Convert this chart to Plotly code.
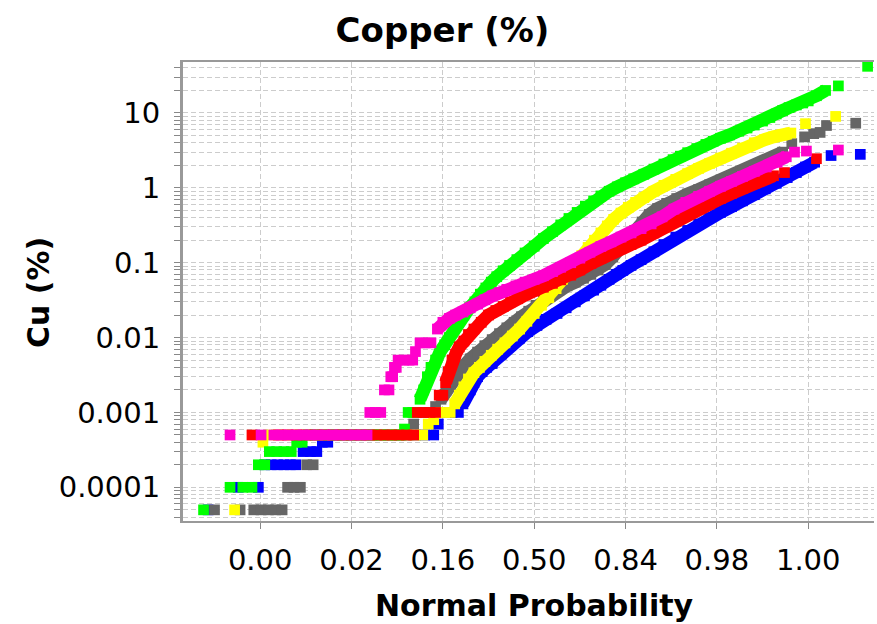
import plotly.graph_objects as go

# Normal-score (z) positions and copper grades for each population
green_z = [-3.62, -3.33, -3.19, -3.09, -3.02, -2.95, -2.90, -2.82, -2.74, -2.66, -2.60, -2.54,
           -2.48, -2.40, -2.32, -2.24, -2.16, -2.08, -2.00, -1.92, -1.84, -1.76, -1.68, -1.60, -1.52, -1.46,
           -1.42, -1.38, -1.33, -1.29, -1.25, -1.21, -1.17, -1.13, -1.08, -1.03, -0.98, -0.93, -0.88, -0.83,
           -0.77, -0.71, -0.65, -0.59, -0.53, -0.47, -0.41, -0.34, -0.27, -0.19, -0.10, 0.00, 0.10, 0.20,
           0.29, 0.38, 0.47, 0.56, 0.65, 0.73, 0.82, 0.91, 1.00, 1.09, 1.20, 1.31, 1.42, 1.52, 1.60, 1.68,
           1.78, 1.88, 1.96, 2.04, 2.14, 2.24, 2.33, 2.41, 2.50, 2.58, 2.65, 2.72, 2.79, 2.87, 2.94, 3.00,
           3.09, 3.19, 3.33, 3.65]
green_cu = [5e-5, 1e-4, 1e-4, 1e-4, 2e-4, 2e-4, 3e-4, 3e-4, 3e-4, 3e-4, 4e-4, 4e-4,
            5e-4, 5e-4, 5e-4, 5e-4, 5e-4, 5e-4, 5e-4, 5e-4, 5e-4, 5e-4, 5e-4, 5e-4, 5e-4, 5e-4,
            6e-4, 1e-3, 1e-3, 1e-3, 1.5e-3, 2e-3, 3e-3, 4e-3, 5e-3, 6.5e-3, 8e-3, 0.010, 0.013, 0.016,
            0.020, 0.025, 0.030, 0.038, 0.046, 0.055, 0.065, 0.078, 0.092, 0.11, 0.135, 0.166, 0.21, 0.26,
            0.32, 0.39, 0.47, 0.57, 0.67, 0.78, 0.90, 1.03, 1.17, 1.32, 1.52, 1.78, 2.08, 2.38, 2.65, 2.95,
            3.35, 3.8, 4.2, 4.6, 5.1, 5.7, 6.3, 6.9, 7.8, 8.7, 9.7, 10.8, 11.8, 12.8, 13.6, 14.5,
            17.0, 20.0, 23.0, 42.0]

yellow_z = [-3.28, -2.97, -2.90, -2.80, -2.70, -2.60, -2.50, -2.40, -2.30, -2.20, -2.10, -2.00, -1.90,
            -1.80, -1.70, -1.60, -1.50, -1.40, -1.30, -1.22, -1.16, -1.10, -1.04, -0.98, -0.92, -0.87,
            -0.82, -0.77, -0.72, -0.66, -0.60, -0.54, -0.47, -0.40, -0.32, -0.24, -0.16, -0.08, 0.00,
            0.08, 0.16, 0.24, 0.31, 0.38, 0.45, 0.52, 0.59, 0.66, 0.73, 0.80, 0.87, 0.95, 1.03, 1.11,
            1.20, 1.31, 1.42, 1.55, 1.68, 1.80, 1.92, 2.04, 2.16, 2.28, 2.41, 2.52, 2.62, 2.72, 2.81,
            2.97, 3.30]
yellow_cu = [5e-5, 4e-4, 5e-4, 5e-4, 5e-4, 5e-4, 5e-4, 5e-4, 5e-4, 5e-4, 5e-4, 5e-4, 5e-4,
             5e-4, 5e-4, 5e-4, 5e-4, 5e-4, 5e-4, 5e-4, 7e-4, 8e-4, 1e-3, 1e-3, 1e-3, 1.3e-3,
             1.7e-3, 2.2e-3, 2.8e-3, 3.4e-3, 4e-3, 4.8e-3, 5.8e-3, 7e-3, 8.5e-3, 0.0105, 0.013, 0.0165, 0.021,
             0.027, 0.034, 0.045, 0.060, 0.078, 0.10, 0.125, 0.16, 0.20, 0.25, 0.31, 0.38, 0.46, 0.55, 0.64,
             0.74, 0.90, 1.08, 1.30, 1.55, 1.82, 2.12, 2.5, 2.9, 3.4, 4.0, 4.4, 4.8, 5.1, 5.4,
             7.2, 9.0]

gray_z = [-3.50, -3.22, -3.07, -2.99, -2.91, -2.83, -2.76, -2.70, -2.63, -2.56, -2.49, -2.42,
          -2.38, -2.28, -2.18, -2.08, -1.98, -1.88, -1.78, -1.68, -1.58, -1.48, -1.38,
          -1.32, -1.24, -1.16, -1.08, -1.02, -0.96, -0.90, -0.84, -0.77, -0.70, -0.62, -0.54, -0.46,
          -0.38, -0.30, -0.22, -0.14, -0.06, 0.02, 0.10, 0.18, 0.27, 0.36, 0.45, 0.54, 0.62, 0.70,
          0.78, 0.86, 0.94, 1.02, 1.10, 1.18, 1.26, 1.35, 1.45, 1.56, 1.68, 1.80, 1.92, 2.04, 2.16,
          2.28, 2.41, 2.52, 2.62, 2.72, 2.82, 2.96, 3.06, 3.13, 3.20, 3.52]
gray_cu = [5e-5, 5e-5, 5e-5, 5e-5, 5e-5, 5e-5, 5e-5, 1e-4, 1e-4, 1e-4, 2e-4, 2e-4,
           5e-4, 5e-4, 5e-4, 5e-4, 5e-4, 5e-4, 5e-4, 5e-4, 5e-4, 5e-4, 5e-4,
           7e-4, 1e-3, 1e-3, 1.2e-3, 1.5e-3, 2e-3, 2.6e-3, 3.3e-3, 4.2e-3, 5.2e-3, 6.4e-3, 7.8e-3, 9.4e-3,
           0.0113, 0.0135, 0.016, 0.019, 0.0225, 0.027, 0.032, 0.037, 0.043, 0.049, 0.055, 0.062, 0.070, 0.080,
           0.095, 0.12, 0.16, 0.21, 0.27, 0.35, 0.44, 0.53, 0.62, 0.72, 0.83, 0.95, 1.10, 1.27, 1.46,
           1.70, 1.95, 2.2, 2.5, 3.0, 3.9, 4.8, 5.3, 5.5, 6.8, 7.3]

blue_z = [-3.57, -3.24, -3.02, -2.95, -2.88, -2.81, -2.74, -2.67, -2.61, -2.53, -2.45, -2.38,
          -2.32, -2.26, -2.20, -2.10, -2.00, -1.90, -1.80, -1.70, -1.60, -1.50, -1.40, -1.30, -1.20, -1.10,
          -1.05, -0.97, -0.90, -0.83, -0.78, -0.74, -0.70, -0.66, -0.62, -0.57, -0.52, -0.46, -0.36,
          -0.26, -0.16, -0.07, 0.03, 0.13, 0.25, 0.35, 0.45, 0.55, 0.65, 0.73, 0.82, 0.90, 0.97, 1.06,
          1.17, 1.31, 1.42, 1.55, 1.68, 1.80, 1.92, 2.04, 2.16, 2.28, 2.41, 2.53, 2.65, 2.77, 2.87,
          2.97, 3.07, 3.25, 3.57]
blue_cu = [5e-5, 1e-4, 1e-4, 2e-4, 2e-4, 2e-4, 2e-4, 2e-4, 2e-4, 3e-4, 3e-4, 3e-4,
           4e-4, 4e-4, 5e-4, 5e-4, 5e-4, 5e-4, 5e-4, 5e-4, 5e-4, 5e-4, 5e-4, 5e-4, 5e-4, 5e-4,
           7e-4, 1e-3, 1e-3, 1e-3, 1.3e-3, 1.7e-3, 2e-3, 2.5e-3, 3e-3, 3.5e-3, 4e-3, 4.5e-3, 6e-3,
           7.8e-3, 9.8e-3, 0.012, 0.0145, 0.0175, 0.021, 0.025, 0.030, 0.036, 0.043, 0.050, 0.060, 0.070, 0.079, 0.092,
           0.11, 0.14, 0.175, 0.22, 0.27, 0.33, 0.40, 0.47, 0.56, 0.67, 0.81, 0.97, 1.15, 1.37, 1.6,
           1.9, 2.2, 2.7, 2.8]

red_z = [-3.09, -2.80, -2.70, -2.60, -2.50, -2.40, -2.30, -2.20, -2.10, -2.00, -1.90, -1.80, -1.72,
         -1.64, -1.56, -1.48, -1.40, -1.32, -1.28, -1.21, -1.14, -1.08, -1.04, -1.00, -0.97, -0.94,
         -0.90, -0.86, -0.82, -0.77, -0.72, -0.66, -0.58, -0.50, -0.42, -0.34, -0.26, -0.18, -0.10,
         0.00, 0.10, 0.20, 0.29, 0.40, 0.50, 0.62, 0.73, 0.84, 0.95, 1.06, 1.17, 1.31, 1.43, 1.55,
         1.68, 1.80, 1.92, 2.04, 2.16, 2.28, 2.41, 2.53, 2.62, 2.74, 3.09]
red_cu = [5e-4, 5e-4, 5e-4, 5e-4, 5e-4, 5e-4, 5e-4, 5e-4, 5e-4, 5e-4, 5e-4, 5e-4, 5e-4,
          5e-4, 5e-4, 5e-4, 5e-4, 5e-4, 1e-3, 1e-3, 1e-3, 1e-3, 1.7e-3, 1.7e-3, 2.5e-3, 3.5e-3,
          5e-3, 6e-3, 7.5e-3, 9e-3, 0.011, 0.013, 0.016, 0.020, 0.023, 0.026, 0.030, 0.033, 0.037,
          0.042, 0.047, 0.053, 0.059, 0.068, 0.080, 0.097, 0.115, 0.135, 0.155, 0.175, 0.20, 0.25, 0.30, 0.36,
          0.44, 0.52, 0.61, 0.72, 0.84, 0.98, 1.15, 1.32, 1.45, 1.6, 2.45]

magenta_z = [-3.33, -2.99, -2.85, -2.77, -2.69, -2.61, -2.53, -2.45, -2.37, -2.29, -2.21, -2.13, -2.05,
             -1.97, -1.90, -1.83, -1.80, -1.74, -1.68, -1.64, -1.59, -1.57, -1.55, -1.53, -1.51, -1.49,
             -1.43, -1.37, -1.33, -1.30, -1.25, -1.19, -1.13, -1.06, -1.00, -0.93, -0.86, -0.78, -0.70,
             -0.62, -0.54, -0.46, -0.38, -0.30, -0.20, -0.10, 0.00, 0.10, 0.20, 0.29, 0.40, 0.50, 0.61,
             0.73, 0.84, 0.95, 1.06, 1.17, 1.28, 1.40, 1.53, 1.66, 1.80, 1.92, 2.04, 2.16, 2.28, 2.41,
             2.54, 2.66, 2.76, 2.85, 2.98, 3.33]
magenta_cu = [5e-4, 5e-4, 5e-4, 5e-4, 5e-4, 5e-4, 5e-4, 5e-4, 5e-4, 5e-4, 5e-4, 5e-4, 5e-4,
              5e-4, 5e-4, 5e-4, 1e-3, 1e-3, 1e-3, 2e-3, 2e-3, 3e-3, 3e-3, 4e-3, 4e-3, 5e-3,
              5e-3, 5e-3, 5e-3, 6.5e-3, 8.5e-3, 8.5e-3, 8.5e-3, 0.013, 0.016, 0.018, 0.020, 0.022, 0.025,
              0.028, 0.032, 0.036, 0.040, 0.044, 0.049, 0.055, 0.060, 0.067, 0.076, 0.087, 0.10, 0.115, 0.138,
              0.165, 0.19, 0.22, 0.25, 0.285, 0.33, 0.41, 0.52, 0.64, 0.77, 0.90, 1.05, 1.22, 1.42, 1.66,
              1.9, 2.2, 2.6, 3.0, 3.1, 3.2]

# (name, z, Cu, colour, z-span over which the samples form a continuous band)
# drawn bottom to top
series = [
    ("blue", blue_z, blue_cu, "#0000FF", (-0.78, 3.07)),
    ("gray", gray_z, gray_cu, "#666666", (-1.02, 2.72)),
    ("yellow", yellow_z, yellow_cu, "#FFFF00", (-0.87, 2.81)),
    ("green", green_z, green_cu, "#00FF00", (-1.25, 3.19)),
    ("red", red_z, red_cu, "#FF0000", (-0.97, 2.62)),
    ("magenta", magenta_z, magenta_cu, "#FF00CC", (-1.06, 2.76)),
]

prob_ticks = [-3, -2, -1, 0, 1, 2, 3]
prob_labels = ["0.00", "0.02", "0.16", "0.50", "0.84", "0.98", "1.00"]

decade_labels = {-4: "0.0001", -3: "0.001", -2: "0.01", -1: "0.1", 0: "1", 1: "10"}
cu_ticks, cu_labels = [], []
for k in range(-5, 2):
    for m in range(1, 10):
        cu_ticks.append(m * 10.0 ** k)
        cu_labels.append(decade_labels.get(k, "") if m == 1 else "")

fig = go.Figure()
for name, z, cu, color, (z0, z1) in series:
    band = [(zz, v) for zz, v in zip(z, cu) if z0 <= zz <= z1]
    fig.add_trace(go.Scatter(
        x=[b[0] for b in band], y=[b[1] for b in band], mode="lines",
        line=dict(color=color, width=13), hoverinfo="skip", showlegend=False,
    ))
    fig.add_trace(go.Scatter(
        x=z, y=cu, mode="markers", name=name,
        marker=dict(symbol="square", size=10.7, color=color, line=dict(width=0)),
        hoverinfo="x+y",
    ))

font_family = "DejaVu Sans, Verdana, sans-serif"
grid = dict(showgrid=True, gridcolor="#cccccc", gridwidth=1, griddash="5px,3px")

fig.update_layout(
    width=877, height=624,
    margin=dict(l=183, r=3, t=62, b=103),
    paper_bgcolor="white", plot_bgcolor="white",
    showlegend=False,
    font=dict(family=font_family, color="black"),
    title=dict(text="<b>Copper (%)</b>", x=442.5 / 877, xref="container", xanchor="center",
               y=1 - 30 / 624, yref="container", yanchor="middle",
               font=dict(size=34, family=font_family, color="black")),
    xaxis=dict(range=[-3.845, 3.72], tickvals=prob_ticks, ticktext=prob_labels,
               ticks="outside", ticklen=6, tickcolor="#888888", tickwidth=1,
               tickfont=dict(size=29), ticklabelstandoff=6,
               showline=True, linecolor="#999999", linewidth=2, mirror=True,
               zeroline=False, **grid),
    yaxis=dict(type="log", range=[-4.45, 1.681], tickvals=cu_ticks, ticktext=cu_labels,
               ticks="outside", ticklen=6, tickcolor="#888888", tickwidth=1,
               tickfont=dict(size=29), ticklabelstandoff=8,
               showline=True, linecolor="#999999", linewidth=3,
               zeroline=False, **grid),
    annotations=[
        dict(text="<b>Normal Probability</b>", xref="paper", yref="paper",
             x=(534 - 183) / 691, y=(521 - 605) / 459, xanchor="center", yanchor="middle",
             showarrow=False, font=dict(size=30, family=font_family, color="black")),
        dict(text="<b>Cu (%)</b>", xref="paper", yref="paper", textangle=-90,
             x=(38 - 183) / 691, y=(521 - 293) / 459, xanchor="center", yanchor="middle",
             showarrow=False, font=dict(size=30, family=font_family, color="black")),
    ],
)

fig.write_html("out.html")
